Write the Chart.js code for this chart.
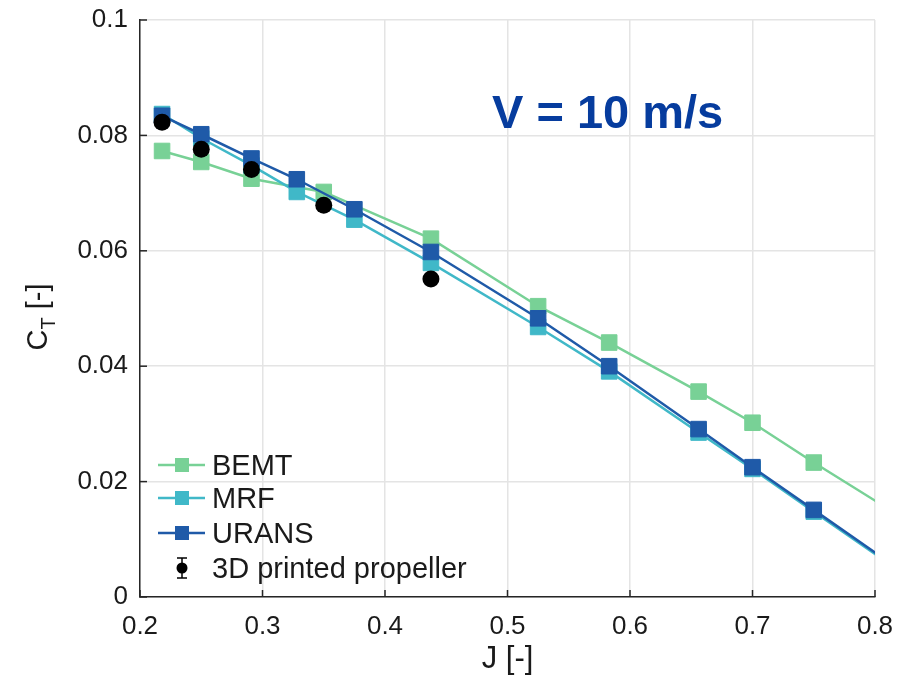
<!DOCTYPE html>
<html>
<head>
<meta charset="utf-8">
<script src="https://cdn.jsdelivr.net/npm/chart.js@4/dist/chart.umd.min.js"></script>
<style>
html,body{margin:0;padding:0;background:#fff;}
#wrap{width:908px;height:680px;position:relative;}
</style>
</head>
<body>
<div id="wrap"><canvas id="c" width="908" height="680"></canvas></div>
<script>
// ---- data ----
const jCFD = [0.218, 0.25, 0.291, 0.328, 0.375, 0.4375, 0.525, 0.583, 0.656, 0.7, 0.75, 0.85];
const ctURANS = [0.0834, 0.0802, 0.0760, 0.0724, 0.0672, 0.0598, 0.0483, 0.0400, 0.0291, 0.0225, 0.0151, 0.0003];
const ctMRF   = [0.0837, 0.0795, 0.0748, 0.0702, 0.0654, 0.0579, 0.0468, 0.0391, 0.0285, 0.0222, 0.0148, 0.0001];
const jBEMT = [0.218, 0.25, 0.291, 0.35, 0.4375, 0.525, 0.583, 0.656, 0.7, 0.75, 0.85];
const ctBEMT = [0.0773, 0.0754, 0.0725, 0.0702, 0.0621, 0.0504, 0.0441, 0.0356, 0.0302, 0.0233, 0.0101];
const jExp = [0.218, 0.25, 0.291, 0.35, 0.4375];
const ctExp = [0.0823, 0.0776, 0.0741, 0.0679, 0.0551];
const errExp = [0.0006, 0.0006, 0.0006, 0.0006, 0.0006];
const xTickLabels = ['0.2','0.3','0.4','0.5','0.6','0.7','0.8'];
const yTickLabels = ['0','0.02','0.04','0.06','0.08','0.1'];
const seriesNames = ['BEMT','MRF','URANS','3D printed propeller'];
const annotationText = 'V = 10 m/s';
const xTitle = 'J [-]';

// ---- styles ----
const FONT = '"Liberation Sans", Arial, Helvetica, sans-serif';
const C_BEMT = '#78d196', C_MRF = '#40b8c8', C_URANS = '#1f5aa8', C_EXP = '#000000';
const AXIS = '#262626';

const pts = (xs, ys) => xs.map((x, i) => ({x: x, y: ys[i]}));

function lineDs(label, xs, ys, color, order) {
  return {
    label, data: pts(xs, ys), borderColor: color, backgroundColor: color,
    borderWidth: 2.5, pointStyle: 'rect', pointRadius: 11, pointBorderWidth: 1,
    pointBorderColor: color, pointBackgroundColor: color, tension: 0, order: order
  };
}

const errorBarPlugin = {
  id: 'errbars',
  afterDatasetsDraw(chart) {
    const ctx = chart.ctx, xs = chart.scales.x, ys = chart.scales.y;
    ctx.save();
    ctx.strokeStyle = '#000'; ctx.lineWidth = 1.5;
    jExp.forEach((j, i) => {
      const px = xs.getPixelForValue(j);
      const y1 = ys.getPixelForValue(ctExp[i] - errExp[i]);
      const y2 = ys.getPixelForValue(ctExp[i] + errExp[i]);
      ctx.beginPath();
      ctx.moveTo(px, y1); ctx.lineTo(px, y2);
      ctx.moveTo(px - 4, y1); ctx.lineTo(px + 4, y1);
      ctx.moveTo(px - 4, y2); ctx.lineTo(px + 4, y2);
      ctx.stroke();
    });
    ctx.restore();
  }
};

const decorPlugin = {
  id: 'decor',
  afterDraw(chart) {
    const ctx = chart.ctx, xs = chart.scales.x, ys = chart.scales.y, a = chart.chartArea;
    ctx.save();
    // inward ticks
    ctx.strokeStyle = AXIS; ctx.lineWidth = 1.5;
    ys.ticks.forEach(t => {
      const py = ys.getPixelForValue(t.value);
      ctx.beginPath(); ctx.moveTo(a.left, py); ctx.lineTo(a.left + 7, py); ctx.stroke();
    });
    xs.ticks.forEach(t => {
      const px = xs.getPixelForValue(t.value);
      ctx.beginPath(); ctx.moveTo(px, a.bottom); ctx.lineTo(px, a.bottom - 7); ctx.stroke();
    });

    // y title C_T [-]
    ctx.save();
    ctx.translate(47, 317);
    ctx.rotate(-Math.PI / 2);
    ctx.fillStyle = '#1a1a1a';
    ctx.textBaseline = 'alphabetic';
    ctx.textAlign = 'left';
    const fBig = '29px ' + FONT, fSmall = '20px ' + FONT;
    ctx.font = fBig; const wC = ctx.measureText('C').width;
    ctx.font = fSmall; const wT = ctx.measureText('T').width;
    ctx.font = fBig; const wB = ctx.measureText(' [-]').width;
    let x0 = -(wC + wT + wB) / 2;
    ctx.font = fBig; ctx.fillText('C', x0, 0);
    ctx.font = fSmall; ctx.fillText('T', x0 + wC, 8);
    ctx.font = fBig; ctx.fillText(' [-]', x0 + wC + wT, 0);
    ctx.restore();

    // annotation
    ctx.font = 'bold 47px ' + FONT;
    ctx.fillStyle = '#063c9e';
    ctx.textBaseline = 'alphabetic';
    ctx.textAlign = 'left';
    ctx.fillText(annotationText, 492, 128);

    // legend
    const colors = [C_BEMT, C_MRF, C_URANS];
    const baselines = [475, 508, 543, 578];
    ctx.font = '29px ' + FONT;
    ctx.fillStyle = '#1a1a1a';
    for (let i = 0; i < 3; i++) {
      const cy = baselines[i] - 10;
      ctx.strokeStyle = colors[i]; ctx.lineWidth = 2.5;
      ctx.beginPath(); ctx.moveTo(158, cy); ctx.lineTo(205, cy); ctx.stroke();
      ctx.fillStyle = colors[i];
      ctx.fillRect(175, cy - 7, 14, 14);
      ctx.fillStyle = '#1a1a1a';
      ctx.fillText(seriesNames[i], 212, baselines[i]);
    }
    const ey = baselines[3] - 10;
    ctx.strokeStyle = '#000'; ctx.lineWidth = 1.5;
    ctx.beginPath();
    ctx.moveTo(182, ey - 10); ctx.lineTo(182, ey + 10);
    ctx.moveTo(177, ey - 10); ctx.lineTo(187, ey - 10);
    ctx.moveTo(177, ey + 10); ctx.lineTo(187, ey + 10);
    ctx.stroke();
    ctx.fillStyle = '#000';
    ctx.beginPath(); ctx.arc(182, ey, 5.5, 0, Math.PI * 2); ctx.fill();
    ctx.fillStyle = '#1a1a1a';
    ctx.fillText(seriesNames[3], 212, baselines[3]);
    ctx.restore();
  }
};

new Chart(document.getElementById('c'), {
  type: 'line',
  data: {
    datasets: [
      lineDs(seriesNames[0], jBEMT, ctBEMT, C_BEMT, 3),
      lineDs(seriesNames[1], jCFD, ctMRF, C_MRF, 2),
      lineDs(seriesNames[2], jCFD, ctURANS, C_URANS, 1),
      {
        label: seriesNames[3], data: pts(jExp, ctExp), showLine: false,
        pointStyle: 'circle', pointRadius: 8.5, pointBackgroundColor: C_EXP,
        pointBorderColor: C_EXP, pointBorderWidth: 0, order: 0
      }
    ]
  },
  options: {
    responsive: false,
    animation: false,
    layout: { padding: { left: 0, right: 33, top: 20, bottom: 0 } },
    plugins: { legend: { display: false }, tooltip: { enabled: false } },
    scales: {
      x: {
        type: 'linear', min: 0.2, max: 0.8,
        afterFit(s) { s.height = 83; },
        ticks: {
          stepSize: 0.1, padding: 14, color: '#1a1a1a',
          font: { family: FONT, size: 26 },
          callback: (v, i) => xTickLabels[i]
        },
        grid: { color: '#e4e4e4', lineWidth: 1.5, drawTicks: false },
        border: { color: AXIS, width: 1.5 },
        title: { display: true, text: xTitle, color: '#1a1a1a', font: { family: FONT, size: 31 }, padding: { top: 0, bottom: 2 } }
      },
      y: {
        type: 'linear', min: 0, max: 0.1,
        afterFit(s) { s.width = 140; s.paddingTop = 0; s.paddingBottom = 0; },
        ticks: {
          stepSize: 0.02, padding: 12, color: '#1a1a1a',
          font: { family: FONT, size: 26, lineHeight: 1 },
          callback: (v, i) => yTickLabels[i]
        },
        grid: { color: '#e4e4e4', lineWidth: 1.5, drawTicks: false },
        border: { color: AXIS, width: 1.5 }
      }
    }
  },
  plugins: [errorBarPlugin, decorPlugin]
});
</script>
</body>
</html>
